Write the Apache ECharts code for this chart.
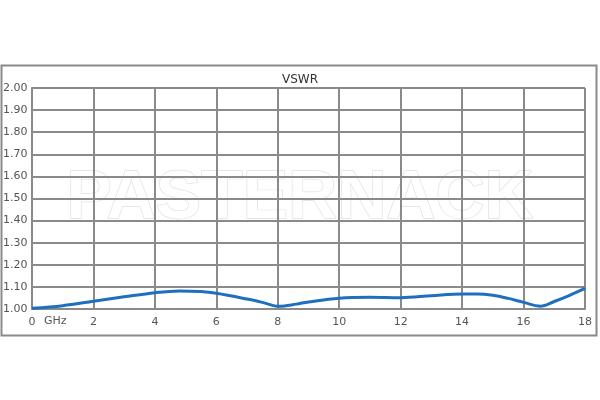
<!DOCTYPE html>
<html><head><meta charset="utf-8">
<script src="https://cdn.jsdelivr.net/npm/echarts@6/dist/echarts.min.js"></script>
<style>html,body{margin:0;padding:0;background:#fff}#c{width:600px;height:400px}</style>
</head><body><div id="c"></div>
<script>
const freqGHz = [0, 1, 2, 3, 4, 4.8, 5.5, 6, 7, 7.5, 8.05, 8.6, 9, 10, 11, 12, 13, 14, 14.5, 15, 15.5, 16, 16.55, 17, 17.5, 18];
const vswr    = [1.003, 1.015, 1.035, 1.055, 1.074, 1.082, 1.079, 1.071, 1.045, 1.030, 1.012, 1.022, 1.032, 1.049, 1.053, 1.051, 1.060, 1.068, 1.068, 1.062, 1.048, 1.030, 1.013, 1.034, 1.062, 1.093];
const xTicks = [0, 2, 4, 6, 8, 10, 12, 14, 16, 18];
const yTicks = ['1.00','1.10','1.20','1.30','1.40','1.50','1.60','1.70','1.80','1.90','2.00'];

const chart = echarts.init(document.getElementById('c'));
const gridColor = '#8a8a8a';
chart.setOption({
  animation: false,
  graphic: [
    {type:'rect', shape:{x:1.5,y:65.5,width:595,height:270}, style:{fill:'none', stroke:'#8a8a8a', lineWidth:2}, z:-1},
    {type:'text', left:'center', top:165, z:-1, style:{text:'PASTERNACK', font:'bold 68px "Liberation Sans", Arial, sans-serif', fill:'#ffffff', stroke:'#e0e0e0', lineWidth:1.4, letterSpacing:7}},
    {type:'text', x:44, y:316, style:{text:'GHz', font:'11px "DejaVu Sans", sans-serif', fill:'#555'}}
  ],
  title: {text:'VSWR', left:'center', top:69, textStyle:{fontSize:12, fontWeight:'normal', color:'#333', fontFamily:'"DejaVu Sans", sans-serif'}},
  grid: {left:31, right:15, top:88, bottom:91, containLabel:false},
  xAxis: {
    type:'value', min:0, max:18, interval:2,
    axisLine:{show:true, lineStyle:{color:gridColor, width:2}},
    axisTick:{show:false},
    splitLine:{show:true, lineStyle:{color:gridColor, width:2}},
    axisLabel:{color:'#555', fontSize:11, fontFamily:'"DejaVu Sans", sans-serif', margin:8,
      formatter: v => xTicks.includes(v) ? String(v) : ''}
  },
  yAxis: {
    type:'value', min:1, max:2, interval:0.1,
    axisLine:{show:true, lineStyle:{color:gridColor, width:2}},
    axisTick:{show:false},
    splitLine:{show:true, lineStyle:{color:gridColor, width:2}},
    axisLabel:{color:'#555', fontSize:11, fontFamily:'"DejaVu Sans", sans-serif', align:'left', margin:29,
      formatter: v => yTicks[Math.round((v-1)*10)]}
  },
  series: [{
    type:'line', smooth:0.35, symbol:'none',
    data: freqGHz.map((f,i)=>[f, vswr[i]]),
    lineStyle:{color:'#1f6fbf', width:3}
  }]
});
</script></body></html>
